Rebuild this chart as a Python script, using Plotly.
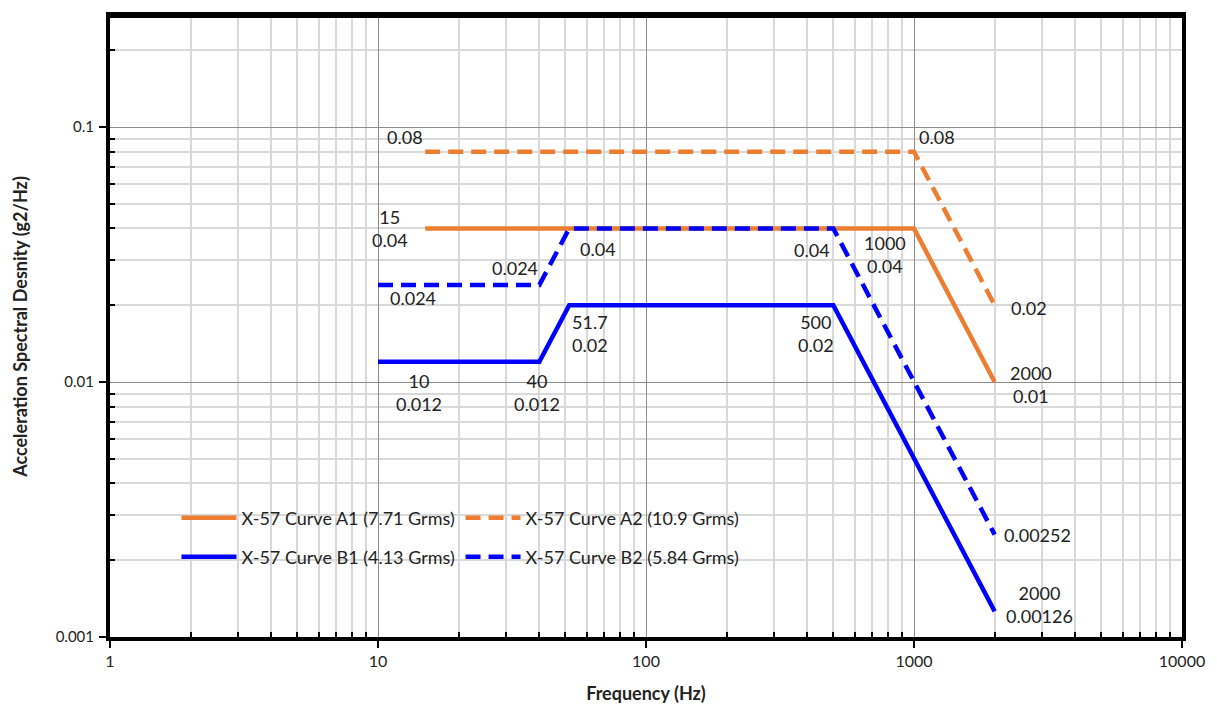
import math
import plotly.graph_objects as go

# ---- data ----
a1_freq = [15, 1000, 2000]
a1_asd = [0.04, 0.04, 0.01]
a2_freq = [15, 1000, 2000]
a2_asd = [0.08, 0.08, 0.02]
b1_freq = [10, 40, 51.7, 500, 2000]
b1_asd = [0.012, 0.012, 0.02, 0.02, 0.00126]
b2_freq = [10, 40, 51.7, 500, 2000]
b2_asd = [0.024, 0.024, 0.04, 0.04, 0.00252]

series_names = [
    "X-57 Curve A1 (7.71 Grms)",
    "X-57 Curve A2 (10.9 Grms)",
    "X-57 Curve B1 (4.13 Grms)",
    "X-57 Curve B2 (5.84 Grms)",
]

x_tick_vals = [1, 10, 100, 1000, 10000]
x_tick_text = ["1", "10", "100", "1000", "10000"]
y_tick_vals = [0.001, 0.01, 0.1]
y_tick_text = ["0.001", "0.01", "0.1"]

# label style per point: (show x value?, xshift, yshift)
a1_lbl = [(True, -35, 0), (True, -29, -26), (True, 36, -2)]
a2_lbl = [(False, -20, 15), (False, 23, 15), (False, 34, -3)]
b1_lbl = [(True, 41, -31), (True, -2, -31), (True, 21, -28), (True, -17, -28), (True, 45, 7)]
b2_lbl = [(False, 35, -13), (False, -24, 17), (False, 29, -21), (False, -21, -22), (False, 43, 0)]

ORANGE = "#ED7D31"
BLUE = "#0000FF"
FONT = "Lato"
TXT = "#222222"

fig = go.Figure()
series = [
    (a1_freq, a1_asd, ORANGE, "solid", a1_lbl),
    (a2_freq, a2_asd, ORANGE, "15px,8px", a2_lbl),
    (b1_freq, b1_asd, BLUE, "solid", b1_lbl),
    (b2_freq, b2_asd, BLUE, "15px,8px", b2_lbl),
]
legend_ids = ["legend", "legend2", "legend3", "legend4"]
for i, (fx, fy, col, dash, lbl) in enumerate(series):
    fig.add_trace(go.Scatter(
        x=fx, y=fy, mode="lines", name=series_names[i],
        line=dict(color=col, width=4.5, dash=dash),
        legend=legend_ids[i], showlegend=True,
    ))
    for xv, yv, (showx, xs, ys) in zip(fx, fy, lbl):
        txt = (f"{xv:g}<br>{yv:g}" if showx else f"{yv:g}")
        fig.add_annotation(
            x=math.log10(xv), y=math.log10(yv), xref="x", yref="y",
            text=txt, showarrow=False, xshift=xs, yshift=ys,
            font=dict(family=FONT, size=18, color=TXT),
        )

minor_x = [m * 10 ** d for d in range(0, 4) for m in range(2, 10)]
minor_y = [m * 10 ** d for d in range(-3, 0) for m in range(2, 10) if m * 10 ** d <= 0.3]

# plot area height -> keep 255 px per decade
TOP = 8
PLOT_H = 698 - TOP - 69
y_top = -3 + PLOT_H / 255

legend_common = dict(
    orientation="h", bgcolor="rgba(0,0,0,0)", borderwidth=0,
    font=dict(family=FONT, size=18, color=TXT),
    itemwidth=55, xanchor="left", yanchor="middle",
)
lx1, lx2 = 0.062, 0.327
ly1, ly2 = (637 - 518) / PLOT_H, (637 - 557) / PLOT_H
layout_legends = {
    "legend": dict(x=lx1, y=ly1, **legend_common),
    "legend2": dict(x=lx2, y=ly1, **legend_common),
    "legend3": dict(x=lx1, y=ly2, **legend_common),
    "legend4": dict(x=lx2, y=ly2, **legend_common),
}

fig.update_layout(
    width=1209, height=698,
    margin=dict(l=102, r=35, t=TOP, b=69, autoexpand=False),
    paper_bgcolor="white", plot_bgcolor="white",
    font=dict(family=FONT, color=TXT),
    shapes=[dict(type="line", xref="paper", yref="paper", x0=0, x1=1, y0=1, y1=1,
                 line=dict(color="black", width=4), layer="above")],
    **layout_legends,
)

fig.update_xaxes(
    type="log", range=[0, 4], automargin=False,
    tickmode="array", tickvals=x_tick_vals, ticktext=x_tick_text,
    tickfont=dict(family=FONT, size=16, color=TXT),
    ticks="outside", ticklen=7, tickwidth=2, tickcolor="black",
    showgrid=True, gridcolor="#8c8c8c", gridwidth=1,
    showline=True, linecolor="black", linewidth=4, mirror=True,
    zeroline=False,
    minor=dict(tickmode="array", tickvals=minor_x, showgrid=True,
               gridcolor="#d9d9d9", gridwidth=1.5, ticks="inside",
               ticklen=5, tickwidth=2, tickcolor="black"),
    title=dict(text="<b>Frequency (Hz)</b>", font=dict(family=FONT, size=18, color=TXT),
               standoff=19),
)
fig.update_yaxes(
    type="log", range=[-3, y_top], automargin=False,
    tickmode="array", tickvals=y_tick_vals, ticktext=y_tick_text,
    tickfont=dict(family=FONT, size=15, color=TXT),
    ticks="outside", ticklen=7, tickwidth=2, tickcolor="black",
    ticklabelstandoff=2,
    showgrid=True, gridcolor="#8c8c8c", gridwidth=1,
    showline=True, linecolor="black", linewidth=4, mirror=True,
    zeroline=False,
    minor=dict(tickmode="array", tickvals=minor_y, showgrid=True,
               gridcolor="#d9d9d9", gridwidth=1.5, ticks="inside",
               ticklen=5, tickwidth=2, tickcolor="black"),
    title=dict(text="<b>Acceleration Spectral Desnity (g2/Hz)</b>",
               font=dict(family=FONT, size=18, color=TXT), standoff=24),
)

fig.write_html("out.html")
